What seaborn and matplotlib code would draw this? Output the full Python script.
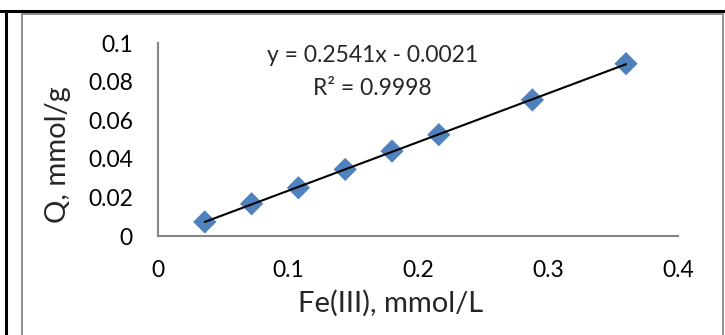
import matplotlib
matplotlib.use("Agg")
import matplotlib.pyplot as plt
from matplotlib.ticker import FuncFormatter
from matplotlib.patches import Rectangle
from matplotlib.lines import Line2D
import seaborn as sns
import numpy as np
import pandas as pd

# Data

fe_conc = [0.036, 0.072, 0.108, 0.144, 0.180, 0.216, 0.288, 0.360]
q_values = [0.0073, 0.0167, 0.0250, 0.0345, 0.0440, 0.0525, 0.0705, 0.0893]

x_ticks = [0, 0.1, 0.2, 0.3, 0.4]
y_ticks = [0, 0.02, 0.04, 0.06, 0.08, 0.1]

equation_text = "y = 0.2541x - 0.0021"
r2_text = "R² = 0.9998"

df = pd.DataFrame({"Fe": fe_conc, "Q": q_values})

# Style

sns.set_style("white")
plt.rcParams['font.family'] = ['Lato', 'DejaVu Sans']

axis_grey = "#868686"
blue = "#4F81BD"

fig = plt.figure(figsize=(7.25, 3.35), dpi=100)
ax = fig.add_axes([0.2179, 0.2955, 0.7173, 0.5761])

# Frames (black outer, grey chart area)

fig.add_artist(Line2D([0, 1], [1 - 11 / 335, 1 - 11 / 335],
                      transform=fig.transFigure, color="black", lw=2.2))
fig.add_artist(Line2D([6 / 725, 6 / 725], [0, 1 - 11 / 335],
                      transform=fig.transFigure, color="black", lw=2.2))
fig.add_artist(Rectangle((22 / 725, -0.05), (723 - 22) / 725, 1.05 - 14 / 335,
                         transform=fig.transFigure, fill=False,
                         edgecolor=axis_grey, lw=1.3))

# Scatter and trendline

sns.scatterplot(
    data=df,
    x="Fe",
    y="Q",
    marker="D",
    s=140,
    color=blue,
    edgecolor="none",
    ax=ax,
    zorder=3
)

sns.regplot(
    data=df,
    x="Fe",
    y="Q",
    scatter=False,
    ci=None,
    truncate=True,
    line_kws={"color": "black", "lw": 1.5, "zorder": 4},
    ax=ax
)

ax.text(0.165, 0.0933, equation_text, ha="center", va="center", fontsize=16.5)
ax.text(0.165, 0.0762, r2_text, ha="center", va="center", fontsize=16.5)

# Axes

ax.set_xlim(0, 0.4)
ax.set_ylim(0, 0.1)
ax.set_xticks(x_ticks)
ax.set_yticks(y_ticks)
fmt = FuncFormatter(lambda v, p: "%g" % round(v, 4))
ax.xaxis.set_major_formatter(fmt)
ax.yaxis.set_major_formatter(fmt)

for side in ["top", "right"]:
    ax.spines[side].set_visible(False)
for side in ["left", "bottom"]:
    ax.spines[side].set_color(axis_grey)
    ax.spines[side].set_linewidth(1.5)

ax.tick_params(axis="both", direction="out", length=5, width=1.5,
               color=axis_grey, labelsize=16.5, labelcolor="black")
ax.tick_params(axis="y", pad=13)
ax.tick_params(axis="x", pad=12)

ax.set_xlabel("Fe(III), mmol/L", fontsize=21)
ax.set_ylabel("Q, mmol/g", fontsize=21)
ax.xaxis.set_label_coords(0.448, -0.347)
ax.yaxis.set_label_coords(-0.192, 0.42)
ax.xaxis.label.set_va("center")
ax.yaxis.label.set_va("center")

fig.savefig("out.png", dpi=100)
